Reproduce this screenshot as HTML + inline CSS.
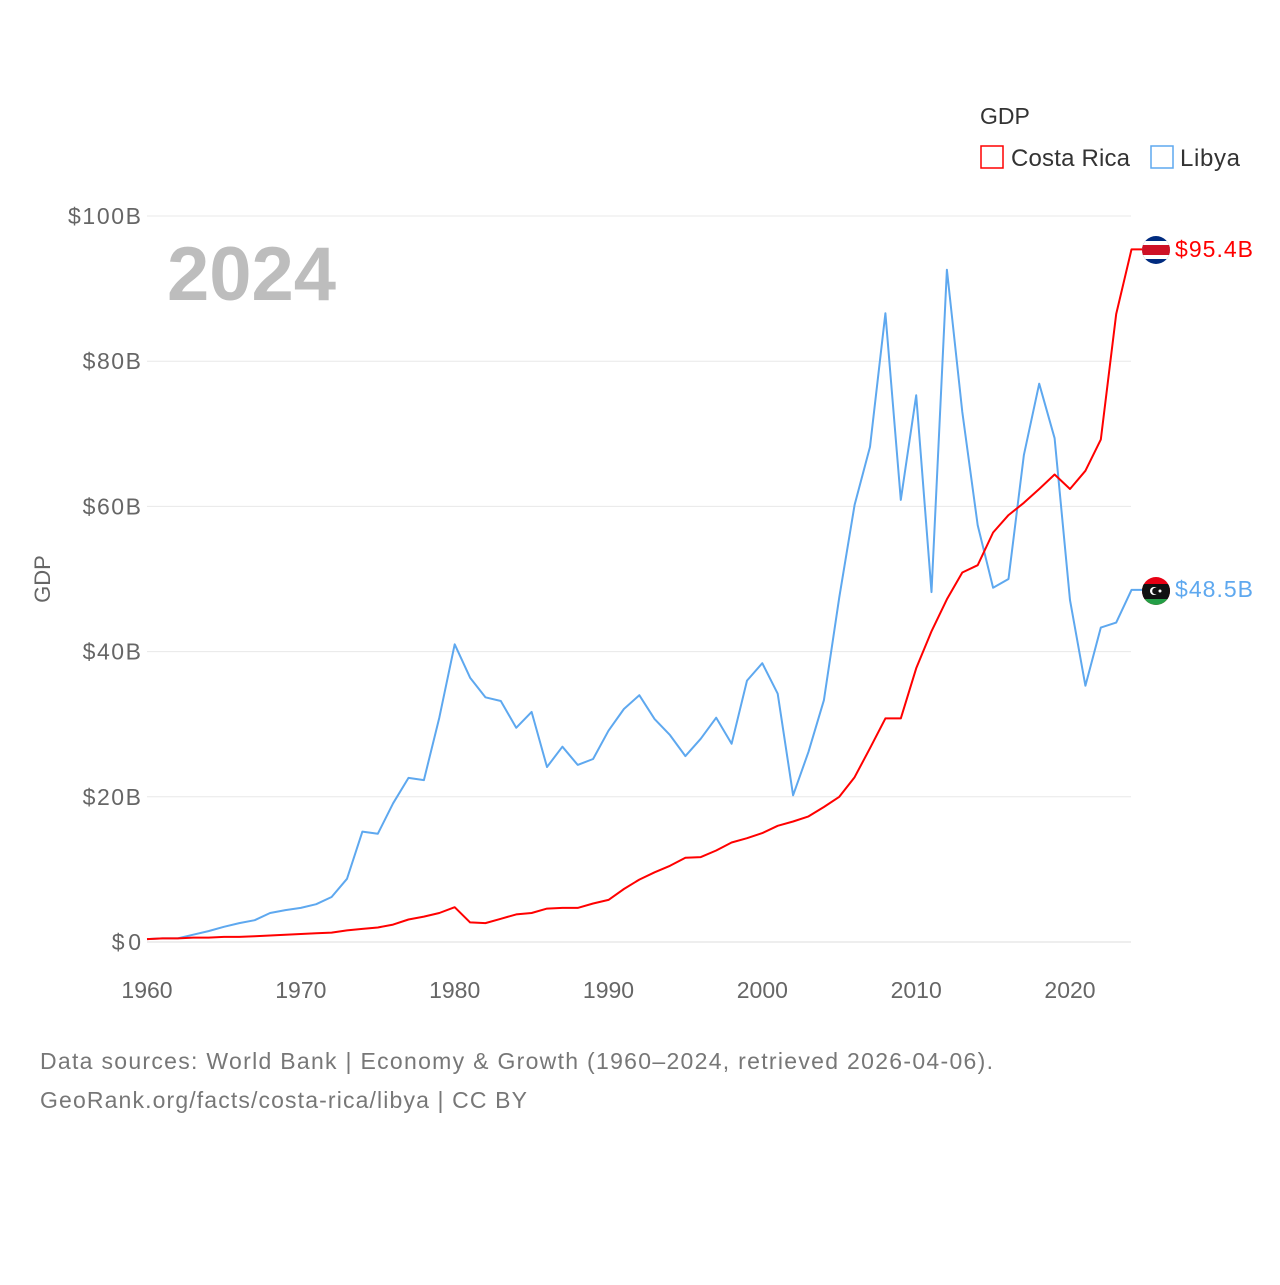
<!DOCTYPE html>
<html><head><meta charset="utf-8"><style>
body{margin:0;background:#fff;font-family:"Liberation Sans",sans-serif}
svg text{font-family:"Liberation Sans",sans-serif}
</style></head><body>
<svg id="chart" width="1280" height="1280" viewBox="0 0 1280 1280" xmlns="http://www.w3.org/2000/svg">
<rect width="1280" height="1280" fill="#fff"/>
<g id="grid"></g>
<g id="yticks"></g>
<g id="xticks"></g>
<text x="167" y="300" font-size="76" font-weight="bold" fill="#bdbdbd">2024</text>
<text transform="translate(50,579) rotate(-90)" text-anchor="middle" font-size="22" fill="#666">GDP</text>
<g id="lines"></g>
<g>
<text x="980" y="124" font-size="23" fill="#333">GDP</text>
<g><rect x="981" y="146" width="22" height="22" fill="none" stroke="#f00" stroke-width="1.5"/><text x="1011" y="166" font-size="24" fill="#333" textLength="119">Costa Rica</text></g>
<g><rect x="1151" y="146" width="22" height="22" fill="none" stroke="#5ea8ef" stroke-width="1.5"/><text x="1180" y="166" font-size="24" fill="#333" textLength="60">Libya</text></g>
</g>
<g>
<clipPath id="c1"><circle cx="1156" cy="250" r="14"/></clipPath>
<g clip-path="url(#c1)"><rect x="1140" y="235" width="32" height="32" fill="#002b7f"/><rect x="1140" y="241" width="32" height="18" fill="#fff"/><rect x="1140" y="245" width="32" height="10" fill="#ce1126"/></g></g>
<g>
<clipPath id="c2"><circle cx="1156" cy="591" r="14"/></clipPath>
<g clip-path="url(#c2)"><rect x="1140" y="576" width="32" height="32" fill="#e70013"/><rect x="1140" y="584" width="32" height="15" fill="#111"/><rect x="1140" y="599" width="32" height="10" fill="#239e46"/><circle cx="1154" cy="591" r="4" fill="#fff"/><circle cx="1155.5" cy="591" r="3.3" fill="#111"/><circle cx="1160" cy="591" r="1.5" fill="#fff"/></g></g>
<text x="1175" y="257" font-size="23" fill="#f00" textLength="78">$95.4B</text>
<text x="1175" y="597" font-size="23" fill="#5ea8ef" textLength="78">$48.5B</text>
<text x="40" y="1069" font-size="23" fill="#777" textLength="953">Data sources: World Bank | Economy &amp; Growth (1960–2024, retrieved 2026-04-06).</text>
<text x="40" y="1108" font-size="23" fill="#777" textLength="487">GeoRank.org/facts/costa-rica/libya | CC BY</text>
</svg>
<script>
const years=[];for(let y=1960;y<=2024;y++)years.push(y);
const costaRica=[0.4,0.5,0.5,0.6,0.6,0.7,0.7,0.8,0.9,1.0,1.1,1.2,1.3,1.6,1.8,2.0,2.4,3.1,3.5,4.0,4.8,2.7,2.6,3.2,3.8,4.0,4.6,4.7,4.7,5.3,5.8,7.3,8.6,9.6,10.5,11.6,11.7,12.6,13.7,14.3,15.0,16.0,16.6,17.3,18.6,20.0,22.7,26.7,30.8,30.8,37.7,42.8,47.2,50.9,51.9,56.4,58.8,60.5,62.4,64.4,62.4,64.9,69.2,86.5,95.4];
const libya=[0.4,0.5,0.5,1.0,1.5,2.1,2.6,3.0,4.0,4.4,4.7,5.2,6.2,8.7,15.2,14.9,19.1,22.6,22.3,30.9,41.0,36.4,33.7,33.2,29.5,31.7,24.1,26.9,24.4,25.2,29.1,32.1,34.0,30.7,28.5,25.6,28.0,30.9,27.3,36.0,38.4,34.2,20.2,26.2,33.3,47.5,60.2,68.2,86.6,60.9,75.3,48.2,92.6,73.0,57.4,48.8,50.0,67.1,76.9,69.4,47.1,35.3,43.3,44.0,48.5];
const yTicks=[0,20,40,60,80,100];
const yTickLabels=["$0","$20B","$40B","$60B","$80B","$100B"];
const xTicks=[1960,1970,1980,1990,2000,2010,2020];
const NS="http://www.w3.org/2000/svg";
const X=v=>147+(v-1960)*(1070-147)/60;
const Y=v=>942-v*7.26;
function mk(t,a,p){const e=document.createElementNS(NS,t);for(const k in a)e.setAttribute(k,a[k]);p.appendChild(e);return e;}
const grid=document.getElementById('grid'),yt=document.getElementById('yticks'),xt=document.getElementById('xticks'),lines=document.getElementById('lines');
yTicks.forEach((v,i)=>{
 const l=mk('line',{x1:147,x2:1131,y1:Y(v),y2:Y(v),stroke:v===0?'#ddd':'#e8e8e8','stroke-width':1},grid);
 
 
 const t=mk('text',{x:141,y:Y(v)+8,'text-anchor':'end','font-size':23,fill:'#666',textLength:yTickLabels[i].length*14.6},yt);
 t.textContent=yTickLabels[i];
 
 
});
xTicks.forEach(v=>{
 const t=mk('text',{x:X(v),y:998,'text-anchor':'middle','font-size':23,fill:'#666'},xt);
 t.textContent=v;
 
 
});
function line(vals,color,name){
 let d=vals.map((v,i)=>(i?'L':'M')+X(years[i]).toFixed(1)+','+Y(v).toFixed(1)).join(' ');
 d+=' L1142,'+Y(vals[vals.length-1]).toFixed(1);
 const p=mk('path',{d:d,fill:'none',stroke:color,'stroke-width':2,'stroke-linejoin':'round'},lines);
 
 
}
line(libya,'#5ea8ef','line-libya');
line(costaRica,'#f00','line-costa-rica');
</script>
</body></html>
